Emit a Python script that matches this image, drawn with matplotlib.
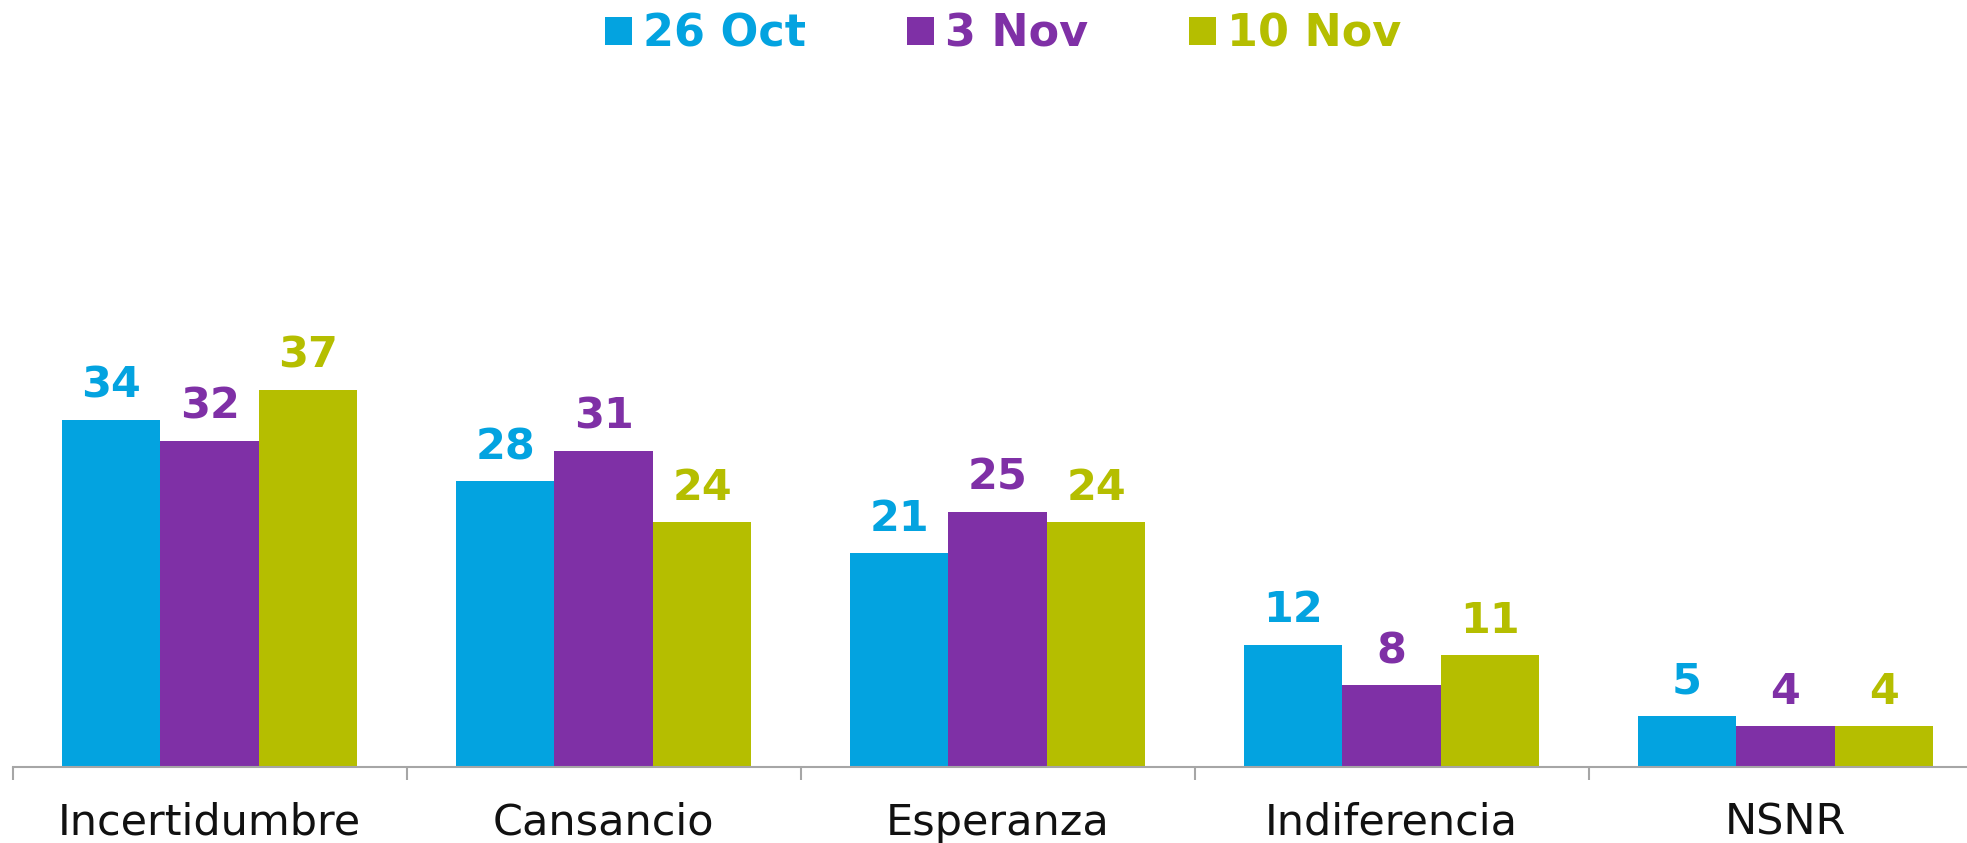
import matplotlib
matplotlib.use("Agg")
import matplotlib.pyplot as plt
import numpy as np

categories = ["Incertidumbre", "Cansancio", "Esperanza", "Indiferencia", "NSNR"]
series_names = ["26 Oct", "3 Nov", "10 Nov"]
oct26 = [34, 28, 21, 12, 5]
nov3 = [32, 31, 25, 8, 4]
nov10 = [37, 24, 24, 11, 4]
series_values = [oct26, nov3, nov10]
colors = ["#03A3E0", "#7F30A6", "#B5BE00"]

plt.rcParams['font.family'] = ['DejaVu Sans']

W, H = 1967, 843
fig = plt.figure(figsize=(W / 100, H / 100), dpi=100)
ax_left = 12.5 / W
ax_bottom = 76 / H
ax = fig.add_axes([ax_left, ax_bottom, 1970 / W, (H - 76) / H])

px_per_unit = 10.2
ax.set_ylim(0, (H - 76) / px_per_unit)
ax.set_xlim(-0.5, len(categories) - 0.5)

x = np.arange(len(categories))
bw = 0.25
handles = []
for i, (vals, col, name) in enumerate(zip(series_values, colors, series_names)):
    xs = x + (i - 1) * bw
    b = ax.bar(xs, vals, width=bw, color=col, label=name, linewidth=0)
    handles.append(b)
    for xi, v in zip(xs, vals):
        ax.annotate(str(v), xy=(xi, v), xytext=(0, 16), textcoords="offset points",
                    ha="center", va="baseline", fontsize=31, fontweight="bold", color=col)

for s in ["top", "right", "left"]:
    ax.spines[s].set_visible(False)
ax.spines["bottom"].set_color("#A6A6A6")
ax.spines["bottom"].set_linewidth(1.5)
ax.set_yticks([])
ax.set_xticks(x)
ax.set_xticklabels(categories, fontsize=31, color="#111111")
ax.tick_params(axis="x", which="major", length=0, pad=25)
ax.set_xticks(np.arange(-0.5, len(categories), 1.0), minor=True)
ax.tick_params(axis="x", which="minor", length=9.5, width=1.5, color="#A6A6A6", direction="out")

leg = fig.legend(handles=handles, labels=series_names, loc="upper center",
                 bbox_to_anchor=(0.51, 0.99), ncol=3, frameon=False,
                 prop={"size": 32, "weight": "bold"},
                 handlelength=0.61, handleheight=0.61, handletextpad=0.25,
                 columnspacing=2.27, borderaxespad=0.0, borderpad=0.1)
for t, col in zip(leg.get_texts(), colors):
    t.set_color(col)

fig.savefig("out.png", dpi=100)
